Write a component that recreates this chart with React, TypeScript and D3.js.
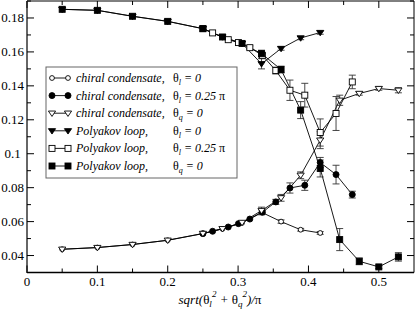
import React from 'react';
import * as d3 from 'd3';

// x positions: theta grid (n/36) and the theta_l = 0.25 pi grid
const xGrid = [0.05, 0.1, 0.15, 0.2, 0.25, 0.2778, 0.3056, 0.3333, 0.3611, 0.3889, 0.4167, 0.4444, 0.4722, 0.5, 0.5278];
const xGridL = [0.25, 0.2638, 0.286, 0.3005, 0.3167, 0.3345, 0.3536, 0.3737, 0.3948, 0.4167, 0.4392, 0.4623];

const chiralL0 = [0.0437, 0.0447, 0.0465, 0.049, 0.0529, 0.0557, 0.0592, 0.0655, 0.06, 0.0552, 0.0533];
const chiralL0Err = [0, 0, 0, 0, 0, 0, 0, 0.0015, 0.001, 0.0008, 0.0008];
const chiralL25 = [0.0529, 0.0543, 0.0568, 0.0588, 0.0615, 0.0655, 0.0716, 0.0798, 0.0814, 0.0948, 0.0877, 0.0759];
const chiralL25Err = [0, 0, 0, 0, 0, 0.001, 0.0015, 0.003, 0.003, 0.003, 0.0055, 0.002];
const chiralQ0 = [0.0437, 0.0447, 0.0465, 0.049, 0.053, 0.0558, 0.0595, 0.0665, 0.074, 0.0873, 0.108, 0.1315, 0.1355, 0.1384, 0.1374];
const chiralQ0Err = [0, 0, 0, 0, 0, 0, 0, 0.002, 0.002, 0.002, 0.005, 0.003, 0.001, 0.001, 0.0015];
const polyL0 = [0.1851, 0.1845, 0.181, 0.178, 0.1737, 0.1688, 0.165, 0.153, 0.162, 0.1682, 0.1714];
const polyL0Err = [0, 0, 0, 0, 0, 0, 0.001, 0.003, 0.001, 0.001, 0.001];
const polyL25 = [0.1737, 0.1712, 0.1672, 0.1655, 0.1625, 0.158, 0.149, 0.1374, 0.1345, 0.1125, 0.1237, 0.1423];
const polyL25Err = [0, 0, 0, 0, 0.001, 0.001, 0.002, 0.006, 0.007, 0.008, 0.01, 0.004];
const polyQ0 = [0.1851, 0.1845, 0.181, 0.178, 0.1737, 0.1688, 0.165, 0.159, 0.1496, 0.1257, 0.0913, 0.0494, 0.0366, 0.0333, 0.0392];
const polyQ0Err = [0, 0, 0, 0, 0, 0, 0, 0.002, 0.002, 0.005, 0.005, 0.0065, 0.002, 0.001, 0.0025];

const xTicks = [0, 0.1, 0.2, 0.3, 0.4, 0.5];
const yTicks = [0.04, 0.06, 0.08, 0.1, 0.12, 0.14, 0.16, 0.18];

type Sym = 'circle' | 'tri' | 'square';
const series = [
  { name: 'chiral condensate,', sub: 'l', val: '0', sym: 'circle' as Sym, filled: false, xs: xGrid, ys: chiralL0, err: chiralL0Err },
  { name: 'chiral condensate,', sub: 'l', val: '0.25 ', pi: true, sym: 'circle' as Sym, filled: true, xs: xGridL, ys: chiralL25, err: chiralL25Err },
  { name: 'chiral condensate,', sub: 'q', val: '0', sym: 'tri' as Sym, filled: false, xs: xGrid, ys: chiralQ0, err: chiralQ0Err },
  { name: 'Polyakov loop,', sub: 'l', val: '0', sym: 'tri' as Sym, filled: true, xs: xGrid, ys: polyL0, err: polyL0Err },
  { name: 'Polyakov loop,', sub: 'l', val: '0.25 ', pi: true, sym: 'square' as Sym, filled: false, xs: xGridL, ys: polyL25, err: polyL25Err },
  { name: 'Polyakov loop,', sub: 'q', val: '0', sym: 'square' as Sym, filled: true, xs: xGrid, ys: polyQ0, err: polyQ0Err },
];

const serif = 'Liberation Serif';

function Marker({ sym, filled, cx, cy }: { sym: Sym; filled: boolean; cx: number; cy: number }) {
  const fill = filled ? '#000' : '#fff';
  if (sym === 'circle') return <circle cx={cx} cy={cy} r={filled ? 3 : 2.4} fill={fill} stroke="#000" strokeWidth={0.9} />;
  if (sym === 'square') return <rect x={cx - 3} y={cy - 3} width={6} height={6} fill={fill} stroke="#000" strokeWidth={0.9} />;
  const s = 3.6;
  return <path d={`M${cx - s},${cy - s * 0.6}L${cx + s},${cy - s * 0.6}L${cx},${cy + s * 0.9}Z`} fill={fill} stroke="#000" strokeWidth={0.9} />;
}

export default function App() {
  const W = 415, H = 312;
  const x = d3.scaleLinear().domain([0, 0.55]).range([27, 414]);
  const y = d3.scaleLinear().domain([0.03, 0.19]).range([272.5, 1]);
  const line = d3.line<[number, number]>().x(d => x(d[0])).y(d => y(d[1]));
  const xMinor = d3.range(0.05, 0.55, 0.1);
  const yMinor = d3.range(3, 20).map(v => v / 100).filter(v => !yTicks.some(t => Math.abs(t - v) < 1e-6));
  const pts = series.map(s => s.ys.map((v, j) => [s.xs[j], v] as [number, number]));

  const legY = (i: number) => 78 + i * 17.6;

  return (
    <svg width={W} height={H} style={{ position: 'fixed', left: 0, top: 0, background: '#fff' }}>
      <rect x={0} y={0} width={W} height={H} fill="#fff" />
      {/* lines */}
      {pts.map((p, i) => (
        <path key={'l' + i} d={line(p) || ''} fill="none" stroke="#000" strokeWidth={0.9} />
      ))}
      {/* error bars */}
      {series.map((s, i) => (
        <g key={'e' + i} stroke="#333" strokeWidth={0.9}>
          {pts[i].map(([px, py], j) => s.err[j] > 0 ? (
            <g key={j}>
              <line x1={x(px)} x2={x(px)} y1={y(py - s.err[j])} y2={y(py + s.err[j])} />
              <line x1={x(px) - 3.5} x2={x(px) + 3.5} y1={y(py - s.err[j])} y2={y(py - s.err[j])} />
              <line x1={x(px) - 3.5} x2={x(px) + 3.5} y1={y(py + s.err[j])} y2={y(py + s.err[j])} />
            </g>
          ) : null)}
        </g>
      ))}
      {/* markers */}
      {series.map((s, i) => (
        <g key={'m' + i}>
          {pts[i].map(([px, py], j) => <Marker key={j} sym={s.sym} filled={s.filled} cx={x(px)} cy={y(py)} />)}
        </g>
      ))}
      {/* frame */}
      <line x1={414} x2={414} y1={1} y2={272.5} stroke="#000" strokeWidth={1} />
      <line x1={27} x2={414} y1={1} y2={1} stroke="#000" strokeWidth={1} />
      <line x1={27} x2={414} y1={272.5} y2={272.5} stroke="#000" strokeWidth={1.5} />
      <line x1={27} x2={27} y1={1} y2={273} stroke="#666" strokeWidth={2} />
      {/* ticks */}
      <g stroke="#000" strokeWidth={1}>
        {xTicks.map(t => (
          <g key={'xt' + t}>
            <line x1={x(t)} x2={x(t)} y1={272.5} y2={265.5} />
            <line x1={x(t)} x2={x(t)} y1={1} y2={8} />
          </g>
        ))}
        {xMinor.map(t => (
          <g key={'xm' + t}>
            <line x1={x(t)} x2={x(t)} y1={272.5} y2={268.5} />
            <line x1={x(t)} x2={x(t)} y1={1} y2={5} />
          </g>
        ))}
        {yTicks.map(t => (
          <g key={'yt' + t}>
            <line x1={27} x2={34} y1={y(t)} y2={y(t)} />
            <line x1={414} x2={407} y1={y(t)} y2={y(t)} />
          </g>
        ))}
        {yMinor.map(t => (
          <g key={'ym' + t}>
            <line x1={27} x2={31} y1={y(t)} y2={y(t)} />
            <line x1={414} x2={410} y1={y(t)} y2={y(t)} />
          </g>
        ))}
      </g>
      {/* tick labels */}
      {xTicks.map(t => (
        <text key={'xl' + t} x={x(t)} y={286} fontSize={13} fontFamily={serif} textAnchor="middle">{t === 0 ? '0' : String(t)}</text>
      ))}
      {yTicks.map(t => (
        <text key={'yl' + t} x={12.5} y={y(t) + 4.5} fontSize={13} fontFamily={serif} textAnchor="middle">{String(+t.toFixed(2))}</text>
      ))}
      {/* axis title */}
      <text x={220} y={304} fontSize={13} fontFamily={serif} textAnchor="middle" fontStyle="italic">
        <tspan>sqrt(</tspan>
        <tspan fontStyle="normal">θ</tspan>
        <tspan fontSize={9} dy={3}>l</tspan>
        <tspan fontSize={9} dy={-10}>2</tspan>
        <tspan dy={7}> + </tspan>
        <tspan fontStyle="normal">θ</tspan>
        <tspan fontSize={9} dy={3}>q</tspan>
        <tspan fontSize={9} dy={-10}>2</tspan>
        <tspan dy={7}>)/</tspan>
        <tspan fontStyle="normal">π</tspan>
      </text>
      {/* legend */}
      <rect x={46} y={67} width={191} height={111} fill="#fff" stroke="#666" strokeWidth={1} />
      {series.map((s, i) => (
        <g key={'lg' + i}>
          <line x1={52} x2={68} y1={legY(i)} y2={legY(i)} stroke="#000" strokeWidth={0.9} />
          <Marker sym={s.sym} filled={s.filled} cx={52} cy={legY(i)} />
          <Marker sym={s.sym} filled={s.filled} cx={68} cy={legY(i)} />
          <text x={76} y={legY(i) + 4} fontSize={12} fontFamily={serif} fontStyle="italic">{s.name}</text>
          <text x={173} y={legY(i) + 4} fontSize={12} fontFamily={serif} fontStyle="italic">
            <tspan fontStyle="normal">θ</tspan>
            <tspan fontSize={8} dy={3}>{s.sub}</tspan>
            <tspan dy={-3}>{' = ' + s.val}</tspan>
            {s.pi ? <tspan fontStyle="normal">π</tspan> : null}
          </text>
        </g>
      ))}
    </svg>
  );
}
